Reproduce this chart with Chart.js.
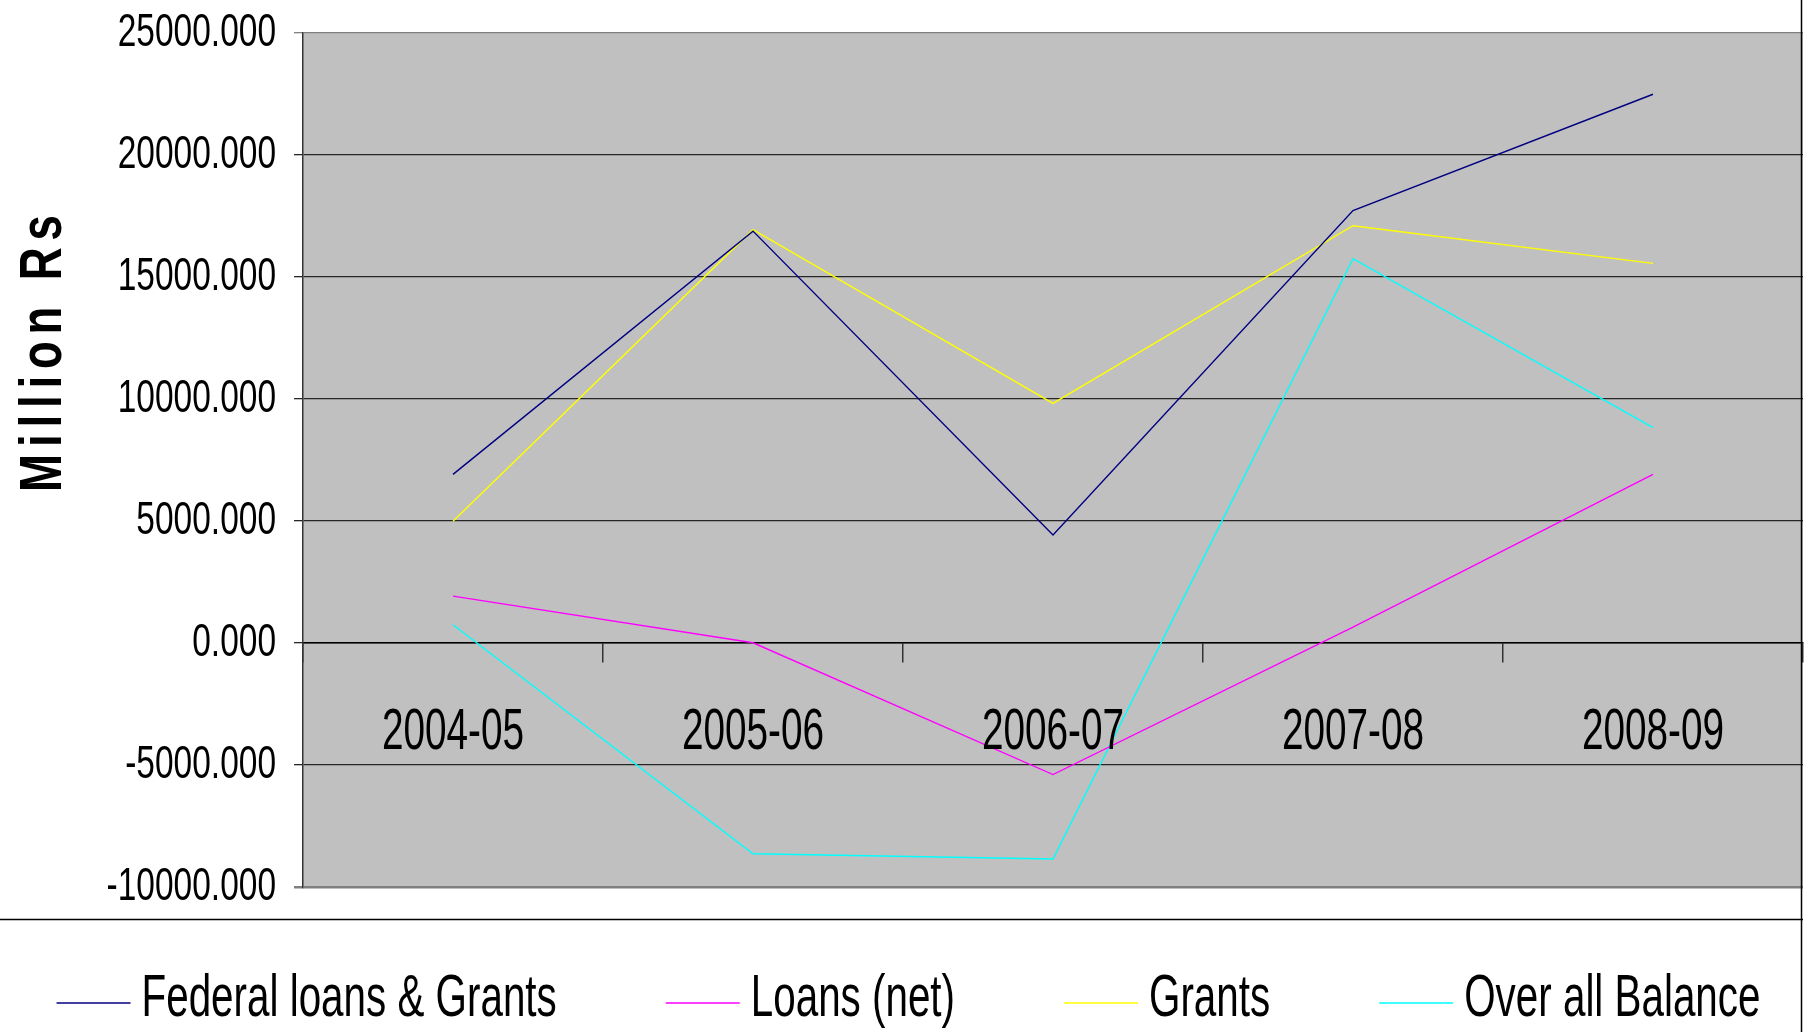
<!DOCTYPE html>
<html>
<head>
<meta charset="utf-8">
<script src="https://cdn.jsdelivr.net/npm/chart.js@4.4.1/dist/chart.umd.min.js"></script>
<style>
  html, body { margin: 0; padding: 0; background: #fff; }
  #wrap { width: 1813px; height: 1032px; }
</style>
</head>
<body>
<div id="wrap"><canvas id="chart" width="1813" height="1032"></canvas></div>
<script>
// values (million Rs)
const years = ["2004-05", "2005-06", "2006-07", "2007-08", "2008-09"];
const federalLoansGrants = [6910, 16880, 4430, 17720, 22490];
const loansNet = [1920, 10, -5390, 650, 6910];
const grants = [4990, 16940, 9820, 17100, 15560];
const overallBalance = [750, -8640, -8850, 15750, 8830];
const yTicks = [-10000, -5000, 0, 5000, 10000, 15000, 20000, 25000];

const sans = "'Liberation Sans', Arial, sans-serif";

// no narrow font installed, so squeeze Liberation Sans horizontally
function squeezedText(ctx, text, x, y, size, sx, align, bold) {
  ctx.save();
  ctx.font = (bold ? "bold " : "") + size + "px " + sans;
  ctx.fillStyle = "#000";
  ctx.textBaseline = "alphabetic";
  const w = ctx.measureText(text).width * sx;
  let left = x;
  if (align === "center") left = x - w / 2;
  if (align === "right") left = x - w;
  ctx.translate(left, y);
  ctx.scale(sx, 1);
  ctx.fillText(text, 0, 0);
  ctx.restore();
  return w;
}

// grey plot area like the old Excel default
const plotBg = {
  id: "plotBg",
  beforeDraw(chart) {
    const { ctx, chartArea: a } = chart;
    ctx.save();
    ctx.fillStyle = "#c0c0c0";
    ctx.fillRect(a.left, a.top, a.right - a.left, a.bottom - a.top);
    ctx.restore();
  }
};

const extras = {
  id: "extras",
  afterDraw(chart) {
    const ctx = chart.ctx;
    const xs = chart.scales.x, ys = chart.scales.y;

    // frame lines of chart area / legend box
    ctx.save();
    ctx.strokeStyle = "#000";
    ctx.lineWidth = 1.5;
    ctx.beginPath();
    ctx.moveTo(0, 919.5); ctx.lineTo(1803, 919.5);
    ctx.moveTo(1801.5, 0); ctx.lineTo(1801.5, 1032);
    ctx.stroke();
    ctx.restore();

    // y tick labels
    yTicks.forEach(v => {
      squeezedText(ctx, v.toFixed(3), 276, ys.getPixelForValue(v) + 13.4, 46, 0.728, "right");
    });

    // category labels, sitting under the zero line
    const zeroY = ys.getPixelForValue(0);
    years.forEach((lab, i) => {
      squeezedText(ctx, lab, xs.getPixelForTick(i), zeroY + 106.4, 58, 0.668, "center");
    });

    // y axis title
    ctx.save();
    ctx.translate(61, 353.5);
    ctx.rotate(-Math.PI / 2);
    ctx.scale(0.76, 1);
    ctx.font = "bold 60px " + sans;
    ctx.letterSpacing = "9px";
    ctx.fillStyle = "#000";
    ctx.textAlign = "center";
    ctx.textBaseline = "alphabetic";
    ctx.fillText("Million Rs", 4.5, 0);
    ctx.restore();

    // legend
    const boxW = 74, boxGap = 11, itemGap = 109, sx = 0.673;
    ctx.save();
    ctx.font = "60px " + sans;
    const items = chart.data.datasets.map(d => ({
      label: d.label, color: d.borderColor, w: ctx.measureText(d.label).width * sx
    }));
    ctx.restore();
    const total = items.reduce((s, it) => s + boxW + boxGap + it.w, 0) + itemGap * (items.length - 1);
    let x = (chart.width - total) / 2 + 2;
    items.forEach(it => {
      ctx.save();
      ctx.strokeStyle = it.color;
      ctx.lineWidth = 1.6;
      ctx.beginPath();
      ctx.moveTo(x, 1003); ctx.lineTo(x + boxW, 1003);
      ctx.stroke();
      ctx.restore();
      squeezedText(ctx, it.label, x + boxW + boxGap, 1016, 60, sx, "left");
      x += boxW + boxGap + it.w + itemGap;
    });
  }
};

const ctx = document.getElementById("chart").getContext("2d");

new Chart(ctx, {
  type: "line",
  data: {
    labels: years,
    datasets: [
      { label: "Federal loans & Grants", data: federalLoansGrants, borderColor: "#000080" },
      { label: "Loans (net)", data: loansNet, borderColor: "#ff00ff" },
      { label: "Grants", data: grants, borderColor: "#ffff00" },
      { label: "Over all Balance", data: overallBalance, borderColor: "#00ffff" }
    ]
  },
  options: {
    responsive: false,
    animation: false,
    layout: { padding: { top: 33, right: 10, bottom: 145, left: 0 } },
    elements: {
      point: { radius: 0 },
      line: { borderWidth: 1.4, tension: 0 }
    },
    plugins: {
      legend: { display: false },
      tooltip: { enabled: false }
    },
    scales: {
      x: {
        position: { y: 0 },
        offset: true,
        grid: { offset: true, drawOnChartArea: false, tickLength: 19, color: "#333", lineWidth: 1.5 },
        border: { color: "#000", width: 1.5 },
        ticks: { display: false, autoSkip: false }
      },
      y: {
        min: -10000,
        max: 25000,
        afterBuildTicks: s => { s.ticks = yTicks.map(v => ({ value: v })); },
        afterFit: s => { s.width = 303; },
        grid: {
          tickLength: 9,
          color: c => (c.tick && (c.tick.value === 25000 || c.tick.value === -10000)) ? "#808080" : "#262626",
          lineWidth: c => (c.tick && c.tick.value === -10000) ? 2.5 : 1.3
        },
        border: { color: "#333", width: 1.5 },
        ticks: { display: false }
      }
    }
  },
  plugins: [plotBg, extras]
});
</script>
</body>
</html>
